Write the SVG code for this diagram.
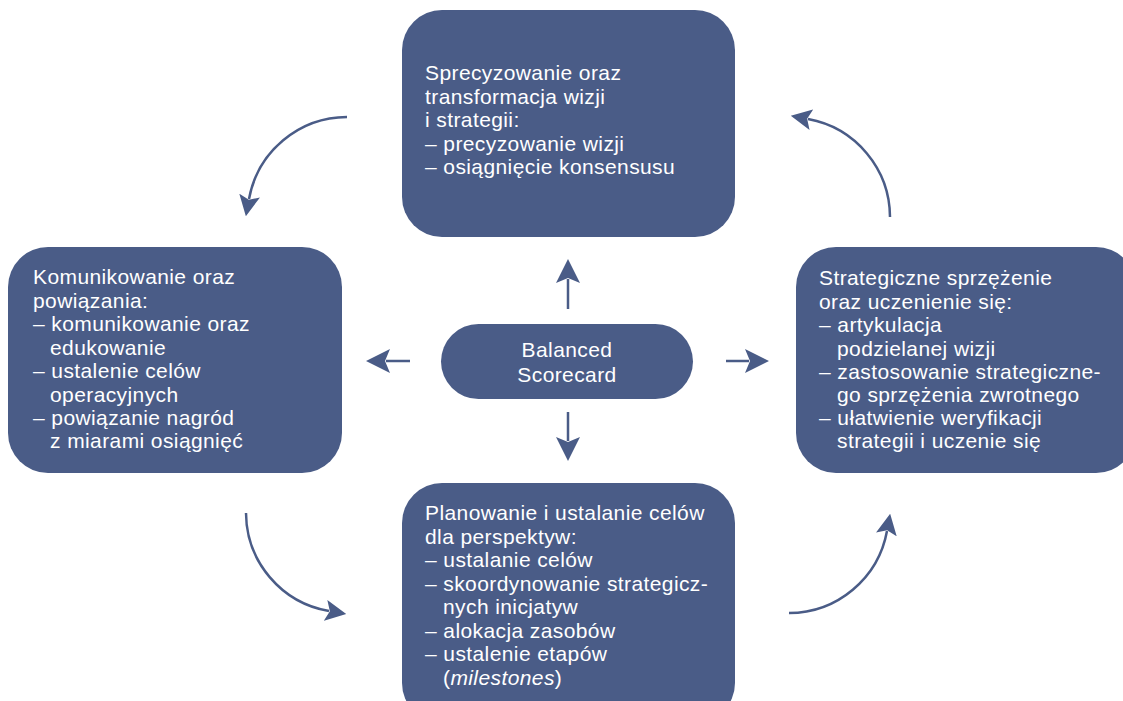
<svg xmlns="http://www.w3.org/2000/svg" width="1123" height="701" viewBox="0 0 1123 701">
  <style>
    .box { fill: #4a5c87; }
    .t { font-family: "Liberation Sans", Arial, sans-serif; font-size: 21px; fill: #ffffff; letter-spacing: 0.4px; }
    .c { text-anchor: middle; }
    .link { fill: none; stroke: #4a5c87; stroke-width: 2.5; }
  </style>
  <defs>
    <marker id="head" viewBox="0 0 24 24" refX="4" refY="12" markerWidth="24" markerHeight="24" markerUnits="userSpaceOnUse" orient="auto">
      <path d="M0,0 L24,12 L0,24 L5,12 Z" fill="#4a5c87"/>
    </marker>
    <marker id="head-s" viewBox="0 0 24 24" refX="4" refY="12" markerWidth="21" markerHeight="21" markerUnits="userSpaceOnUse" orient="auto">
      <path d="M0,0 L24,12 L0,24 L5,12 Z" fill="#4a5c87"/>
    </marker>
  </defs>
  <rect width="1123" height="701" fill="#ffffff"/>

  <g id="connectors">
    <!-- straight arrows out of the centre -->
    <path class="link" d="M568,309 L568,279" marker-end="url(#head)"/>
    <path class="link" d="M410,361 L386,361" marker-end="url(#head)"/>
    <path class="link" d="M726,361 L749,361" marker-end="url(#head)"/>
    <path class="link" d="M568,412 L568,441" marker-end="url(#head)"/>
    <!-- cycle arcs between the outer boxes -->
    <path class="link" d="M347,117 A100,100 0 0 0 249,199" marker-end="url(#head-s)"/>
    <path class="link" d="M246,513 A100,100 0 0 0 329,611" marker-end="url(#head-s)"/>
    <path class="link" d="M789,613 A100,100 0 0 0 887,531" marker-end="url(#head-s)"/>
    <path class="link" d="M890,217 A100,100 0 0 0 808,119" marker-end="url(#head-s)"/>
  </g>

  <g id="node-top">
    <rect class="box" x="402" y="10" width="333" height="227" rx="40"/>
    <text class="t" x="425" y="80">Sprecyzowanie oraz</text>
    <text class="t" x="425" y="103.5">transformacja wizji</text>
    <text class="t" x="425" y="127">i strategii:</text>
    <text class="t" x="425" y="150.5">– precyzowanie wizji</text>
    <text class="t" x="425" y="174">– osiągnięcie konsensusu</text>
  </g>

  <g id="node-left">
    <rect class="box" x="8" y="247" width="334" height="226" rx="40"/>
    <text class="t" x="33" y="284">Komunikowanie oraz</text>
    <text class="t" x="33" y="307.5">powiązania:</text>
    <text class="t" x="33" y="331">– komunikowanie oraz</text>
    <text class="t" x="50" y="354.5">edukowanie</text>
    <text class="t" x="33" y="378">– ustalenie celów</text>
    <text class="t" x="50" y="401.5">operacyjnych</text>
    <text class="t" x="33" y="425">– powiązanie nagród</text>
    <text class="t" x="50" y="448">z miarami osiągnięć</text>
  </g>

  <g id="node-right">
    <rect class="box" x="796" y="247" width="340" height="226" rx="40"/>
    <text class="t" x="819" y="285">Strategiczne sprzężenie</text>
    <text class="t" x="819" y="308.5">oraz uczenienie się:</text>
    <text class="t" x="819" y="332">– artykulacja</text>
    <text class="t" x="837" y="355.5">podzielanej wizji</text>
    <text class="t" x="819" y="379">– zastosowanie strategiczne-</text>
    <text class="t" x="837" y="402">go sprzężenia zwrotnego</text>
    <text class="t" x="819" y="425">– ułatwienie weryfikacji</text>
    <text class="t" x="837" y="448">strategii i uczenie się</text>
  </g>

  <g id="node-bottom">
    <rect class="box" x="402" y="483" width="333" height="240" rx="40"/>
    <text class="t" x="425" y="520">Planowanie i ustalanie celów</text>
    <text class="t" x="425" y="543.5">dla perspektyw:</text>
    <text class="t" x="425" y="567">– ustalanie celów</text>
    <text class="t" x="425" y="590.5">– skoordynowanie strategicz-</text>
    <text class="t" x="443" y="614">nych inicjatyw</text>
    <text class="t" x="425" y="637.5">– alokacja zasobów</text>
    <text class="t" x="425" y="661">– ustalenie etapów</text>
    <text class="t" x="443" y="685">(<tspan font-style="italic">milestones</tspan>)</text>
  </g>

  <g id="node-center">
    <rect class="box" x="441" y="324" width="252" height="75" rx="37.5"/>
    <text class="t c" x="567" y="357">Balanced</text>
    <text class="t c" x="567" y="382">Scorecard</text>
  </g>
</svg>
